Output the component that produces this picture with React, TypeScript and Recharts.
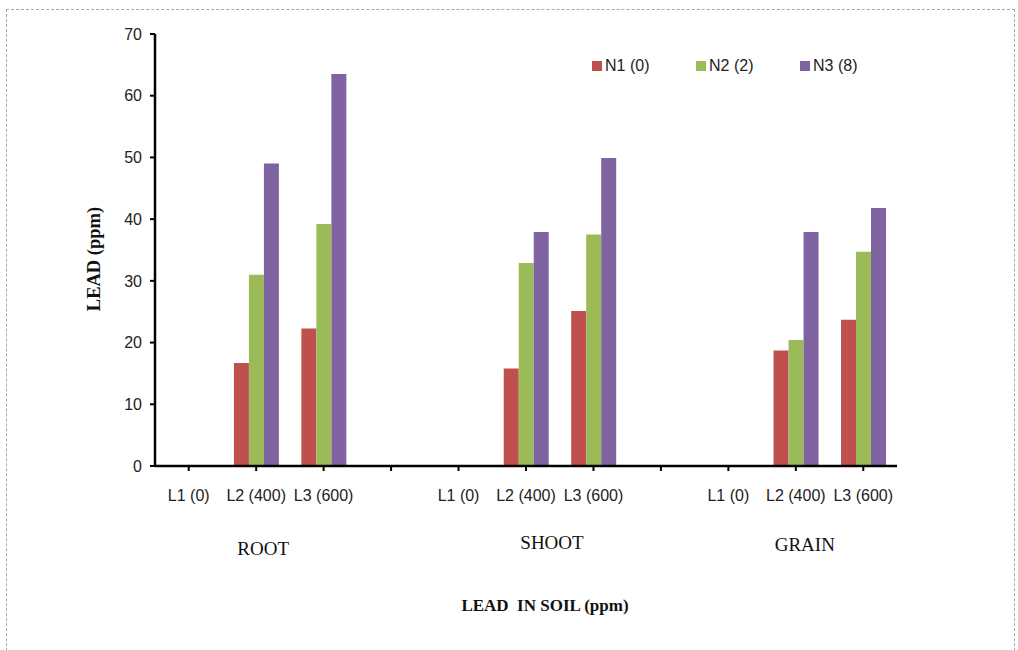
import React from "react";
import { Bar, BarChart, Label, XAxis, YAxis } from "recharts";

// Lead in plant parts (ppm) by soil lead level and nitrogen dose
const GROUPS = ["ROOT", "SHOOT", "GRAIN"];
const LEVELS = ["L1 (0)", "L2 (400)", "L3 (600)"];
const N1 = [
  [0, 16.7, 22.3],
  [0, 15.8, 25.1],
  [0, 18.7, 23.7],
];
const N2 = [
  [0, 31.0, 39.2],
  [0, 32.9, 37.5],
  [0, 20.4, 34.7],
];
const N3 = [
  [0, 49.0, 63.5],
  [0, 37.9, 49.9],
  [0, 37.9, 41.8],
];
const Y_TICKS = [0, 10, 20, 30, 40, 50, 60, 70];

const SERIES = [
  { key: "n1", name: "N1 (0)", color: "#C0504D" },
  { key: "n2", name: "N2 (2)", color: "#9BBB59" },
  { key: "n3", name: "N3 (8)", color: "#8064A2" },
];

type Row = { level: string; group: string; n1?: number; n2?: number; n3?: number };

// one blank slot between groups, like the spreadsheet layout
const rows: Row[] = [];
GROUPS.forEach((g, gi) => {
  if (gi > 0) rows.push({ level: "", group: "" });
  LEVELS.forEach((l, li) => {
    rows.push({ level: l, group: g, n1: N1[gi][li], n2: N2[gi][li], n3: N3[gi][li] });
  });
});

const SANS = "'Liberation Sans', Arial, sans-serif";
const SERIF = "'Liberation Serif', 'Times New Roman', serif";

// axis ids: inner (levels, with the axis line) and outer (group names)
const INNER = "axis0";
const OUTER = "axis1";

// group names sit under the middle level of each group
const GROUP_NUDGE: Record<string, [number, number]> = {
  ROOT: [7, 0],
  SHOOT: [26, -6],
  GRAIN: [9, -4],
};

function GroupTick(props: any) {
  const { x, y, index } = props;
  const row = rows[index];
  if (!row || row.level !== LEVELS[1]) return null;
  const [dx, dy] = GROUP_NUDGE[row.group] ?? [0, 0];
  return (
    <text
      x={x + dx}
      y={y + 36 + dy}
      textAnchor="middle"
      fontFamily={SERIF}
      fontSize={19}
      fill="#111"
    >
      {row.group}
    </text>
  );
}

function SeriesKey() {
  return (
    <div
      style={{
        position: "absolute",
        top: 57,
        left: 592,
        display: "flex",
        fontFamily: SANS,
        fontSize: 16,
        color: "#222",
      }}
    >
      {SERIES.map((s) => (
        <div key={s.key} style={{ width: 104, display: "flex", alignItems: "center" }}>
          <span style={{ width: 10, height: 10, background: s.color, marginRight: 3 }} />
          {s.name}
        </div>
      ))}
    </div>
  );
}

export default function App() {
  return (
    <div
      style={{
        position: "absolute",
        left: 0,
        top: 0,
        width: 1018,
        height: 650,
        background: "#fff",
        overflow: "hidden",
      }}
    >
      <div
        style={{
          position: "absolute",
          left: 6,
          top: 9,
          width: 1007,
          height: 700,
          border: "1px dashed #a8a8a8",
        }}
      />
      <BarChart
        width={1018}
        height={650}
        data={rows}
        margin={{ top: 34, right: 121, left: 95, bottom: 89 }}
        barCategoryGap="17%"
        barGap={0}
        style={{ position: "absolute", left: 0, top: 0 }}
      >
        <XAxis
          xAxisId={INNER}
          dataKey="level"
          height={45}
          interval={0}
          axisLine={{ stroke: "#000", strokeWidth: 2.5 }}
          tickLine={{ stroke: "#000", strokeWidth: 2 }}
          tickSize={5}
          tickMargin={19}
          tick={{ fontFamily: SANS, fontSize: 16, fill: "#222" }}
        />
        <XAxis
          xAxisId={OUTER}
          dataKey="group"
          height={50}
          interval={0}
          axisLine={false}
          tickLine={false}
          tick={<GroupTick />}
        >
          <Label
            content={({ viewBox }: any) => (
              <text
                x={viewBox.x + viewBox.width / 2 + 19}
                y={viewBox.y + 100}
                textAnchor="middle"
                fontFamily={SERIF}
                fontWeight="bold"
                fontSize={17}
                fill="#111"
                style={{ whiteSpace: "pre" }}
              >
                {"LEAD  IN SOIL (ppm)"}
              </text>
            )}
          />
        </XAxis>
        <YAxis
          domain={[0, 70]}
          ticks={Y_TICKS}
          width={60}
          axisLine={{ stroke: "#000", strokeWidth: 2.5 }}
          tickLine={{ stroke: "#000", strokeWidth: 2 }}
          tickSize={5}
          tickMargin={8}
          tick={{ fontFamily: SANS, fontSize: 16, fill: "#222" }}
        >
          <Label
            content={({ viewBox }: any) => {
              const cx = viewBox.x - 1;
              const cy = viewBox.y + viewBox.height / 2 + 9;
              return (
                <text
                  x={cx}
                  y={cy}
                  transform={`rotate(-90 ${cx} ${cy})`}
                  textAnchor="middle"
                  dominantBaseline="central"
                  fontFamily={SERIF}
                  fontWeight="bold"
                  fontSize={18.5}
                  fill="#111"
                >
                  LEAD (ppm)
                </text>
              );
            }}
          />
        </YAxis>
        {SERIES.map((s) => (
          <Bar
            key={s.key}
            xAxisId={INNER}
            dataKey={s.key}
            name={s.name}
            fill={s.color}
            isAnimationActive={false}
          />
        ))}
      </BarChart>
      <SeriesKey />
    </div>
  );
}
